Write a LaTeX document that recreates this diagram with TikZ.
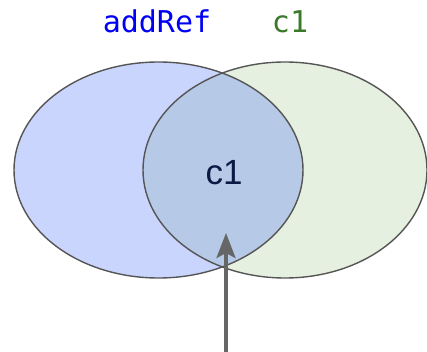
\documentclass[tikz,border=0pt]{standalone}
\usepackage{fontspec}
\newfontfamily\codefont{DejaVu Sans Mono}
\newfontfamily\setfont{Liberation Sans}
\usetikzlibrary{arrows.meta}
\definecolor{leftfill}{HTML}{CAD5FD}
\definecolor{rightfill}{HTML}{E5F0E0}
\definecolor{bothfill}{HTML}{B6C9E6}
\definecolor{rimcol}{HTML}{555555}
\definecolor{refblue}{HTML}{0000F5}
\definecolor{refgreen}{HTML}{3A7A2A}
\definecolor{setnavy}{HTML}{0B1A45}
\definecolor{pointer}{HTML}{666666}
\tikzset{
  rim/.style={draw=rimcol, line width=1.4pt},
  setname/.style={font=\codefont\fontsize{30}{32}\selectfont, anchor=base, inner sep=0pt},
  member/.style={font=\setfont\fontsize{35}{38}\selectfont, anchor=base, inner sep=0pt, text=setnavy},
  pointerline/.style={draw=pointer, line width=3.6pt, -{Stealth[length=25pt,width=19pt,inset=5pt]}}
}
\begin{document}
\begin{tikzpicture}[x=1pt,y=-1pt]
  \useasboundingbox (0,0) rectangle (427,352);
  % the two sets
  \fill[leftfill] (158.5,170) ellipse [x radius=144.5, y radius=108];
  \fill[rightfill] (285,170) ellipse [x radius=142, y radius=108];
  % their overlap
  \begin{scope}
    \clip (158.5,170) ellipse [x radius=144.5, y radius=108];
    \fill[bothfill] (285,170) ellipse [x radius=142, y radius=108];
  \end{scope}
  \draw[rim] (158.5,170) ellipse [x radius=144.5, y radius=108];
  \draw[rim] (285,170) ellipse [x radius=142, y radius=108];
  % labels
  \node[setname, text=refblue] (left) at (157,33) {addRef};
  \node[setname, text=refgreen] (right) at (290,33) {c1};
  \node[member] (common) at (224,185) {c1};
  % pointer into the overlap
  \coordinate (from) at (226,352);
  \coordinate (tip) at (226,233);
  \draw[pointerline] (from) -- (tip);
\end{tikzpicture}
\end{document}
